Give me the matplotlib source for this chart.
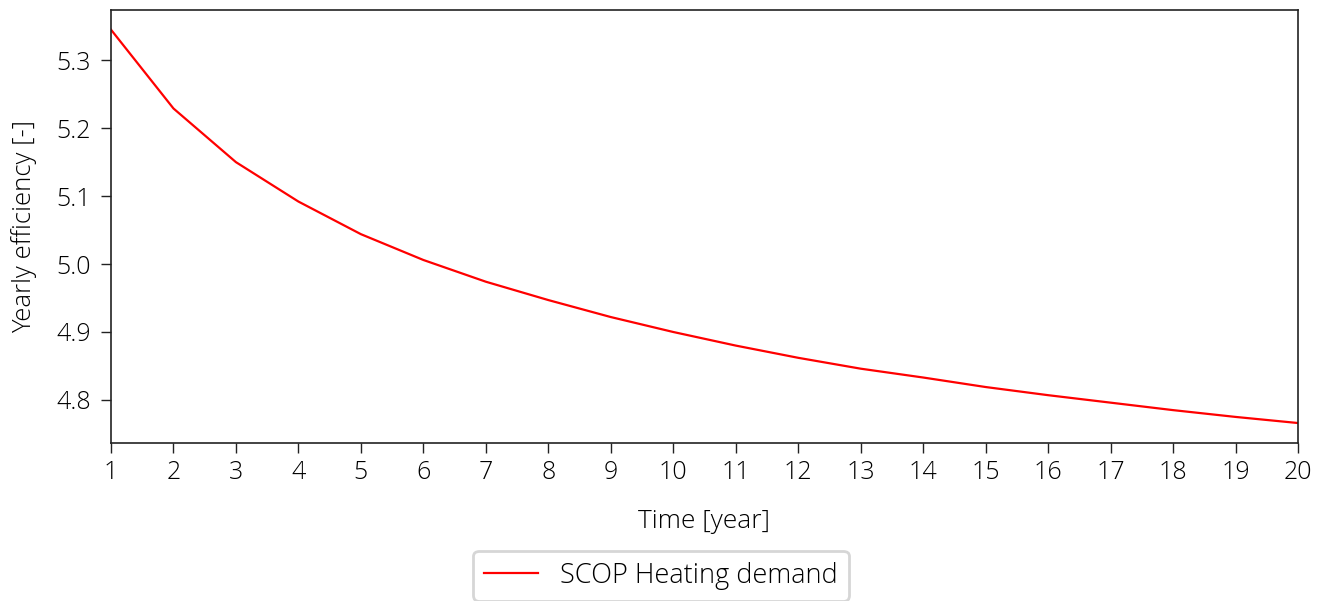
import matplotlib
matplotlib.use("Agg")
import matplotlib.pyplot as plt

years = list(range(1, 21))
scop = [5.345, 5.229, 5.150, 5.092, 5.044, 5.006, 4.974, 4.947, 4.922, 4.900,
        4.880, 4.862, 4.846, 4.833, 4.819, 4.807, 4.796, 4.785, 4.775, 4.766]
series_label = "SCOP Heating demand"
xlabel = "Time [year]"
ylabel = "Yearly efficiency [-]"

plt.rcParams['font.family'] = ['Open Sans', 'DejaVu Sans']
plt.rcParams['font.weight'] = 'light'

fig = plt.figure(figsize=(13.26, 6.01), dpi=100)
ax = fig.add_axes([111/1326, 1-442.7/601, (1298-111)/1326, (442.7-10)/601])
ax.plot(years, scop, color='red', lw=1.6, label=series_label)
ax.set_xlim(1, 20)
ax.set_xticks(years)
ax.set_yticks([4.8, 4.9, 5.0, 5.1, 5.2, 5.3])
ax.set_yticklabels(["4.8", "4.9", "5.0", "5.1", "5.2", "5.3"])
ax.tick_params(labelsize=18, length=7.5, width=1, color='#222222')
ax.tick_params(axis='y', pad=7)
ax.tick_params(axis='x', pad=5)
for s in ax.spines.values():
    s.set_linewidth(1.2)
    s.set_color('#222222')
ax.set_xlabel(xlabel, fontsize=19, fontweight='light', labelpad=17)
ax.set_ylabel(ylabel, fontsize=18.5, fontweight='light', labelpad=14)
leg = fig.legend(loc='upper center', bbox_to_anchor=(661/1326, 1-551/601),
                 fontsize=19.5, frameon=True, fancybox=True, edgecolor='#cccccc',
                 handlelength=2.0, handletextpad=0.8, borderpad=0.4,
                 borderaxespad=0)
leg.get_frame().set_linewidth(2)
fig.savefig("out.png", dpi=100)
